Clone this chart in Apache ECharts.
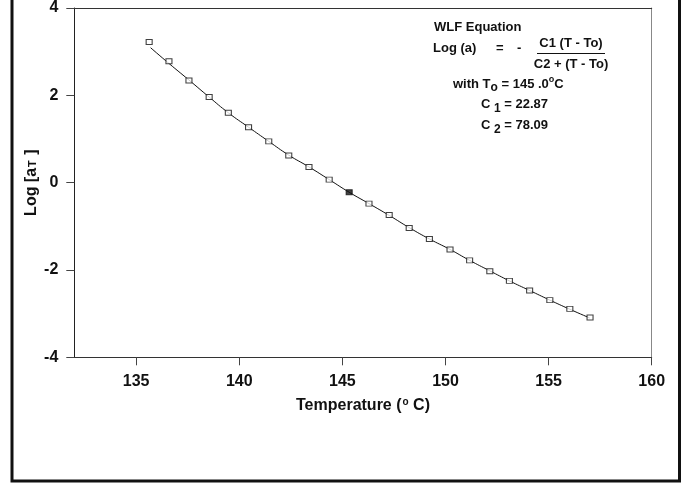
<!DOCTYPE html>
<html>
<head>
<meta charset="utf-8">
<script src="https://cdn.jsdelivr.net/npm/echarts@6/dist/echarts.min.js"></script>
<style>
html,body{margin:0;padding:0;background:#fff;}
#chart{width:686px;height:483px;}
</style>
</head>
<body>
<div id="chart"></div>
<script>
// Measured shift factors (markers)
const temps = [135.63, 136.59, 137.56, 138.54, 139.47, 140.45, 141.43, 142.40, 143.38, 144.36,
               146.29, 147.27, 148.24, 149.22, 150.22, 151.17, 152.15, 153.10, 154.08, 155.06, 156.03, 157.01];
const logA  = [3.22, 2.78, 2.34, 1.96, 1.60, 1.27, 0.945, 0.62, 0.36, 0.07,
               -0.48, -0.74, -1.04, -1.29, -1.53, -1.78, -2.03, -2.25, -2.47, -2.69, -2.89, -3.09];
// Reference point (filled marker)
const refT = [145.33];
const refLog = [-0.22];
// Fitted WLF curve as drawn
const fitT   = [135.70, 136.59, 137.56, 138.54, 139.47, 140.45, 141.43, 142.40, 143.38, 144.36, 145.33,
                146.29, 147.27, 148.24, 149.22, 150.22, 151.17, 152.15, 153.10, 154.08, 155.06, 156.03, 157.00];
const fitLog = [3.09, 2.73, 2.35, 1.96, 1.60, 1.27, 0.945, 0.63, 0.36, 0.07, -0.22,
                -0.48, -0.75, -1.03, -1.29, -1.53, -1.78, -2.02, -2.25, -2.47, -2.69, -2.90, -3.10];
// Axis ticks
const xTicks = [135, 140, 145, 150, 155, 160];
const yTicks = [-4, -2, 0, 2, 4];

const FONT = '"Liberation Sans", Arial, Helvetica, sans-serif';

const chart = echarts.init(document.getElementById('chart'), null, {renderer: 'canvas'});

const ctx = document.createElement('canvas').getContext('2d');
function tw(text, size) {
  ctx.font = 'bold ' + size + 'px ' + FONT;
  return ctx.measureText(text).width;
}
// build a run of text segments (for sub/superscripts)
function run(x, y, segs) {
  const out = [];
  let cx = x;
  segs.forEach(s => {
    const size = s.size || 13;
    out.push({
      type: 'text', silent: true,
      style: {text: s.t, x: cx, y: y + (s.dy || 0), fill: '#111',
              font: 'bold ' + size + 'px ' + FONT, textAlign: 'left', textVerticalAlign: 'middle'}
    });
    cx += tw(s.t, size) + (s.gap || 0);
  });
  return out;
}
function centered(text, x, y, size) {
  return {type: 'text', silent: true,
    style: {text: text, x: x, y: y, fill: '#111', font: 'bold ' + size + 'px ' + FONT,
            textAlign: 'center', textVerticalAlign: 'middle'}};
}

const graphics = [
  {type: 'rect', silent: true, shape: {x: 12, y: -5, width: 667.5, height: 486},
   style: {fill: 'none', stroke: '#111', lineWidth: 3}},
  ...run(434, 27, [{t: 'WLF Equation'}]),
  ...run(433, 48, [{t: 'Log (a)'}]),
  ...run(496, 48, [{t: '='}]),
  ...run(517, 48, [{t: '-'}]),
  centered('C1 (T - To)', 571, 43, 13),
  {type: 'line', silent: true, shape: {x1: 537, y1: 53.5, x2: 605, y2: 53.5},
   style: {stroke: '#111', lineWidth: 1}},
  centered('C2 + (T - To)', 571, 64, 13),
  ...run(453, 84, [{t: 'with T'}, {t: 'o', size: 12, dy: 4}, {t: ' = 145 .0'}, {t: 'o', size: 9, dy: -4}, {t: 'C'}]),
  ...run(481, 104, [{t: 'C '}, {t: '1', size: 12, dy: 5}, {t: ' = 22.87'}]),
  ...run(481, 125, [{t: 'C '}, {t: '2', size: 12, dy: 5}, {t: ' = 78.09'}])
];

const option = {
  backgroundColor: '#fff',
  animation: false,
  grid: {left: 74.3, right: 34.3, top: 4.7, bottom: 125.7, containLabel: false},
  xAxis: [{
    type: 'value', min: 132, max: 160, position: 'bottom',
    name: '{n|Temperature (}{p|o}{n| C)}', nameLocation: 'middle', nameGap: 40, nameMoveOverlap: false,
    nameTextStyle: {fontFamily: FONT, fontWeight: 'bold', fontSize: 16, color: '#111',
      rich: {n: {fontFamily: FONT, fontWeight: 'bold', fontSize: 16, color: '#111'},
             p: {fontFamily: FONT, fontWeight: 'bold', fontSize: 10, color: '#111', padding: [0, 0, 7, 1]}}},
    axisLine: {show: true, onZero: false, lineStyle: {color: '#333', width: 1}},
    axisTick: {show: true, length: 8, inside: false, customValues: xTicks, lineStyle: {color: '#444'}},
    axisLabel: {show: true, margin: 16, customValues: xTicks, fontFamily: FONT, fontWeight: 'bold',
      fontSize: 16, color: '#111'},
    splitLine: {show: false}
  }, {
    type: 'value', min: 132, max: 160, position: 'top',
    axisLine: {show: true, onZero: false, lineStyle: {color: '#333', width: 1}},
    axisTick: {show: false}, axisLabel: {show: false}, splitLine: {show: false}
  }],
  yAxis: [{
    type: 'value', min: -4, max: 4, position: 'left',
    name: '{n|Log [a}{s|T}{n| ]}', nameLocation: 'middle', nameGap: 35, nameRotate: 90, nameMoveOverlap: false,
    nameTextStyle: {fontFamily: FONT, fontWeight: 'bold', fontSize: 16, color: '#111',
      rich: {n: {fontFamily: FONT, fontWeight: 'bold', fontSize: 16, color: '#111'},
             s: {fontFamily: FONT, fontWeight: 'bold', fontSize: 11, color: '#111', padding: [3, 1, 0, 1]}}},
    axisLine: {show: true, onZero: false, lineStyle: {color: '#222', width: 1}},
    axisTick: {show: true, length: 8, inside: false, customValues: yTicks, lineStyle: {color: '#444'}},
    axisLabel: {show: true, margin: 16, customValues: yTicks, fontFamily: FONT, fontWeight: 'bold',
      fontSize: 16, color: '#111'},
    splitLine: {show: false}
  }, {
    type: 'value', min: -4, max: 4, position: 'right',
    axisLine: {show: true, onZero: false, lineStyle: {color: '#888', width: 1}},
    axisTick: {show: false}, axisLabel: {show: false}, splitLine: {show: false}
  }],
  graphic: graphics,
  series: [{
    name: 'WLF fit', type: 'line', smooth: true, showSymbol: false, symbol: 'none',
    data: fitT.map((t, i) => [t, fitLog[i]]),
    lineStyle: {color: '#111', width: 1}, z: 2
  }, {
    name: 'Shift factors', type: 'scatter', symbol: 'rect', symbolSize: [6, 5],
    data: temps.map((t, i) => [t, logA[i]]),
    itemStyle: {color: '#fff', borderColor: '#111', borderWidth: 1}, z: 3
  }, {
    name: 'Reference', type: 'scatter', symbol: 'rect', symbolSize: [6, 5],
    data: refT.map((t, i) => [t, refLog[i]]),
    itemStyle: {color: '#111', borderColor: '#111', borderWidth: 1}, z: 3
  }]
};
chart.setOption(option);
</script>
</body>
</html>
